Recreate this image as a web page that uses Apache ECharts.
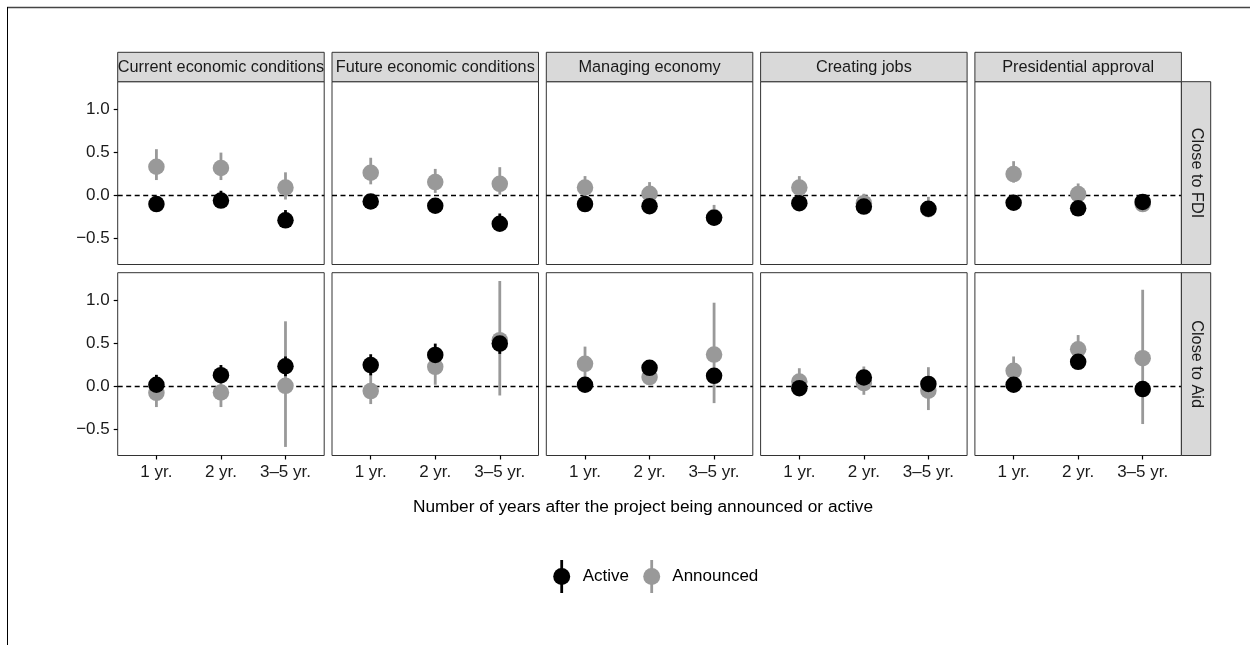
<!DOCTYPE html>
<html>
<head>
<meta charset="utf-8">
<script src="https://cdn.jsdelivr.net/npm/echarts@6/dist/echarts.min.js"></script>
<style>
html,body{margin:0;padding:0;background:#fff;}
#chart{width:1250px;height:645px;}
</style>
</head>
<body>
<div id="chart"></div>
<script>
// ---------- data ----------
const categories = ['1 yr.', '2 yr.', '3–5 yr.'];
const outcomes = ['Current economic conditions', 'Future economic conditions', 'Managing economy', 'Creating jobs', 'Presidential approval'];
const rowLabels = ['Close to FDI', 'Close to Aid'];
const yTicks = [-0.5, 0, 0.5, 1.0];
const refValue = 0;
const seriesNames = ['Active', 'Announced'];

// 15 values per array: outcome-major (5 outcomes x 3 periods)
const fdiActiveEst = [-0.10, -0.06, -0.29,  -0.07, -0.12, -0.33,  -0.10, -0.125, -0.26,  -0.09, -0.13, -0.155,  -0.085, -0.15, -0.075];
const fdiActiveLo  = [-0.16, -0.12, -0.36,  -0.12, -0.18, -0.41,  -0.15, -0.18, -0.32,   -0.14, -0.18, -0.20,   -0.13, -0.20, -0.12];
const fdiActiveHi  = [-0.04,  0.055, -0.17, -0.02, -0.06, -0.21,  -0.05, -0.07, -0.20,   -0.04, -0.08, -0.11,   -0.04, -0.10, -0.03];
const fdiAnnEst    = [0.335, 0.32, 0.093,   0.265, 0.156, 0.136,  0.093, 0.02, -0.255,   0.093, -0.09, -0.16,   0.25, 0.016, -0.10];
const fdiAnnLo     = [0.18, 0.18, -0.047,   0.13, 0.03, 0.01,     -0.03, -0.08, -0.33,   -0.03, -0.20, -0.23,   0.15, -0.08, -0.16];
const fdiAnnHi     = [0.54, 0.50, 0.27,     0.44, 0.31, 0.33,     0.226, 0.156, -0.11,   0.226, 0.02, -0.016,   0.40, 0.14, -0.04];

const aidActiveEst = [0.02, 0.132, 0.236,   0.25, 0.368, 0.50,    0.02, 0.217, 0.124,    -0.02, 0.105, 0.03,    0.02, 0.287, -0.03];
const aidActiveLo  = [-0.08, 0.04, 0.12,    0.13, 0.24, 0.38,     -0.06, 0.14, 0.04,     -0.09, 0.02, -0.05,    -0.06, 0.21, -0.12];
const aidActiveHi  = [0.136, 0.25, 0.35,    0.376, 0.50, 0.62,    0.10, 0.29, 0.21,      0.05, 0.19, 0.11,      0.10, 0.36, 0.06];
const aidAnnEst    = [-0.074, -0.07, 0.008, -0.054, 0.229, 0.54,  0.264, 0.11, 0.372,    0.058, 0.04, -0.05,    0.182, 0.434, 0.33];
const aidAnnLo     = [-0.24, -0.24, -0.705, -0.205, 0.02, -0.105, 0.06, 0.03, -0.194,    -0.08, -0.097, -0.275, 0.03, 0.27, -0.438];
const aidAnnHi     = [0.09, 0.10, 0.76,     0.20, 0.43, 1.23,     0.465, 0.19, 0.977,    0.213, 0.233, 0.225,   0.35, 0.60, 1.128];

// ---------- style / layout ----------
const COL_ACTIVE = '#000000';
const COL_ANN = '#999999';
const FONT = 'Liberation Sans, Arial, Helvetica, sans-serif';
const panelLeft0 = 117.7, panelStep = 214.3, panelW = 206.5;
const rowTop = [81.7, 272.7], panelH = 182.8;
const stripTop = 52.3, stripH = 29.4, sideStripW = 29.3;
const yMin = -0.805, yMax = 1.327;

const rows = [
  {act: [fdiActiveEst, fdiActiveLo, fdiActiveHi], ann: [fdiAnnEst, fdiAnnLo, fdiAnnHi]},
  {act: [aidActiveEst, aidActiveLo, aidActiveHi], ann: [aidAnnEst, aidAnnLo, aidAnnHi]}
];

const grid = [], xAxis = [], yAxis = [], series = [], graphic = [];

function fmtY(v) {
  const s = Math.abs(v).toFixed(1);
  return v < 0 ? '\u2212' + s : s;
}

function errRender(color) {
  return function (params, api) {
    const x = api.value(0);
    const p1 = api.coord([x, api.value(1)]);
    const p2 = api.coord([x, api.value(2)]);
    return {
      type: 'line',
      shape: {x1: p1[0], y1: p1[1], x2: p2[0], y2: p2[1]},
      style: {stroke: color, lineWidth: 2.8}
    };
  };
}

function hlineRender(params, api) {
  const cs = params.coordSys;
  const y = api.coord([api.value(0), api.value(1)])[1];
  return {
    type: 'line',
    shape: {x1: cs.x, y1: y, x2: cs.x + cs.width, y2: y},
    style: {stroke: '#000', lineWidth: 1.3, lineDash: [5, 3.5]}
  };
}

for (let r = 0; r < 2; r++) {
  for (let c = 0; c < 5; c++) {
    const g = r * 5 + c;
    const left = panelLeft0 + c * panelStep;
    grid.push({left: left, top: rowTop[r], width: panelW, height: panelH,
      show: true, borderColor: '#333333', borderWidth: 1, backgroundColor: '#fff'});
    xAxis.push({
      type: 'value', gridIndex: g, min: 0.4, max: 3.6, position: 'bottom',
      axisLine: {show: false, onZero: false}, splitLine: {show: false},
      axisTick: {show: r === 1, customValues: [1, 2, 3], length: 4, lineStyle: {color: '#000', width: 1.2}},
      axisLabel: {show: r === 1, customValues: [1, 2, 3], margin: 8,
        formatter: v => categories[Math.round(v) - 1], color: '#1a1a1a', fontSize: 17, fontFamily: FONT}
    });
    yAxis.push({
      type: 'value', gridIndex: g, min: yMin, max: yMax, position: 'left',
      axisLine: {show: false, onZero: false}, splitLine: {show: false},
      axisTick: {show: c === 0, customValues: yTicks, length: 4, lineStyle: {color: '#000', width: 1.2}},
      axisLabel: {show: c === 0, customValues: yTicks, margin: 8,
        formatter: fmtY, color: '#1a1a1a', fontSize: 17, fontFamily: FONT}
    });
    const d = rows[r];
    const idx = [0, 1, 2].map(j => c * 3 + j);
    // zero reference line
    series.push({
      type: 'custom', xAxisIndex: g, yAxisIndex: g, z: 1, silent: true,
      renderItem: hlineRender, encode: {x: 0, y: 1},
      data: [[2, refValue]]
    });
    series.push({
      type: 'custom', name: 'Announced', xAxisIndex: g, yAxisIndex: g, z: 2, silent: true,
      renderItem: errRender(COL_ANN), encode: {x: 0, y: [1, 2]},
      data: idx.map((k, j) => [j + 1, d.ann[1][k], d.ann[2][k]])
    });
    series.push({
      type: 'custom', name: 'Active', xAxisIndex: g, yAxisIndex: g, z: 2, silent: true,
      renderItem: errRender(COL_ACTIVE), encode: {x: 0, y: [1, 2]},
      data: idx.map((k, j) => [j + 1, d.act[1][k], d.act[2][k]])
    });
    series.push({
      type: 'scatter', name: 'Announced', xAxisIndex: g, yAxisIndex: g, z: 3, silent: true,
      symbolSize: 16.5, itemStyle: {color: COL_ANN, opacity: 1},
      data: idx.map((k, j) => [j + 1, d.ann[0][k]])
    });
    series.push({
      type: 'scatter', name: 'Active', xAxisIndex: g, yAxisIndex: g, z: 4, silent: true,
      symbolSize: 16.5, itemStyle: {color: COL_ACTIVE, opacity: 1},
      data: idx.map((k, j) => [j + 1, d.act[0][k]])
    });
  }
}

// outer frame lines (figure border partially visible)
graphic.push({type: 'line', shape: {x1: 7, y1: 7.5, x2: 1250, y2: 7.5}, style: {stroke: '#444', lineWidth: 1.5}, z: 10});
graphic.push({type: 'line', shape: {x1: 7.5, y1: 7, x2: 7.5, y2: 645}, style: {stroke: '#000', lineWidth: 1}, z: 10});

// top strips
for (let c = 0; c < 5; c++) {
  const left = panelLeft0 + c * panelStep;
  graphic.push({type: 'rect', shape: {x: left, y: stripTop, width: panelW, height: stripH},
    style: {fill: '#D9D9D9', stroke: '#333333', lineWidth: 1}, z: 5});
  graphic.push({type: 'text', x: left + panelW / 2, y: stripTop + stripH / 2 + 0.5, z: 6,
    style: {text: outcomes[c], fill: '#1a1a1a', font: '16.3px ' + FONT, textAlign: 'center', textVerticalAlign: 'middle'}});
}
// side strips
const sideX = panelLeft0 + 4 * panelStep + panelW;
for (let r = 0; r < 2; r++) {
  graphic.push({type: 'rect', shape: {x: sideX, y: rowTop[r], width: sideStripW, height: panelH},
    style: {fill: '#D9D9D9', stroke: '#333333', lineWidth: 1}, z: 5});
  graphic.push({type: 'text', x: sideX + sideStripW / 2, y: rowTop[r] + panelH / 2, rotation: -Math.PI / 2, z: 6,
    style: {text: rowLabels[r], fill: '#1a1a1a', font: '16.3px ' + FONT, textAlign: 'center', textVerticalAlign: 'middle'}});
}
// axis title
graphic.push({type: 'text', x: 643, y: 507, z: 6,
  style: {text: 'Number of years after the project being announced or active', fill: '#000', font: '17.3px ' + FONT, textAlign: 'center', textVerticalAlign: 'middle'}});

// legend
const legendItems = [{name: seriesNames[0], color: COL_ACTIVE, cx: 561.7, tx: 582.7},
                     {name: seriesNames[1], color: COL_ANN, cx: 651.7, tx: 672.3}];
const legY = 576.5;
legendItems.forEach(it => {
  graphic.push({type: 'rect', shape: {x: it.cx - 1.4, y: legY - 16.5, width: 2.8, height: 33}, style: {fill: it.color}, z: 6});
  graphic.push({type: 'circle', shape: {cx: it.cx, cy: legY, r: 8.5}, style: {fill: it.color}, z: 6});
  graphic.push({type: 'text', x: it.tx, y: legY, z: 6,
    style: {text: it.name, fill: '#000', font: '17px ' + FONT, textAlign: 'left', textVerticalAlign: 'middle'}});
});

const chart = echarts.init(document.getElementById('chart'), null, {renderer: 'canvas'});
chart.setOption({
  animation: false,
  backgroundColor: '#ffffff',
  grid: grid, xAxis: xAxis, yAxis: yAxis, series: series, graphic: graphic
});
</script>
</body>
</html>
